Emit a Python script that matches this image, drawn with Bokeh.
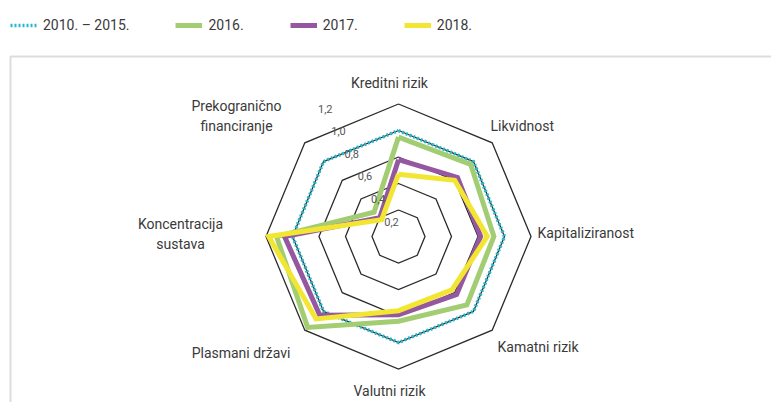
import numpy as np
from bokeh.plotting import figure
from bokeh.models import Legend, LegendItem, BoxAnnotation, ColumnDataSource
from bokeh.core.properties import value
from bokeh.embed import file_html
from bokeh.resources import INLINE

# ---------------- data ----------------
categories = ["Kreditni rizik", "Likvidnost", "Kapitaliziranost", "Kamatni rizik",
              "Valutni rizik", "Plasmani državi", "Koncentracija\nsustava",
              "Prekogranično\nfinanciranje"]
series_names = ["2010. – 2015.", "2016.", "2017.", "2018."]
v_2010_2015 = [1.00, 1.00, 1.00, 1.00, 1.00, 1.00, 1.00, 1.00]
v_2016 = [0.95, 0.97, 0.92, 0.93, 0.84, 1.17, 1.12, 0.46]
v_2017 = [0.78, 0.83, 0.82, 0.82, 0.79, 1.04, 1.06, 0.40]
v_2018 = [0.67, 0.80, 0.87, 0.77, 0.76, 1.08, 1.18, 0.38]
ring_values = [0.4, 0.6, 0.8, 1.0, 1.2]
tick_values = [0.2, 0.4, 0.6, 0.8, 1.0, 1.2]
tick_labels = ["0,2", "0,4", "0,6", "0,8", "1,0", "1,2"]
r_min = 0.2

# ---------------- layout / style ----------------
W, H = 771, 402
CX, CY = 398, 236          # centre of radar in figure pixels (from top-left)
S = 132.5                  # pixels per value unit
FONT = "Roboto"
TXT = "#3a3a3a"

n = len(categories)
theta = np.arange(n) * 2 * np.pi / n


def polar(vals):
    r = (np.asarray(vals, dtype=float) - r_min) * S
    x = r * np.sin(theta)
    y = r * np.cos(theta)
    return np.append(x, x[0]), np.append(y, y[0])


p = figure(width=W, height=H, x_range=(-CX, W - CX), y_range=(-(H - CY), CY),
           output_backend="svg", toolbar_location=None, min_border=0)
p.axis.visible = False
p.grid.visible = False
p.outline_line_color = None
p.background_fill_color = "white"

# frame lines (top and left)
p.add_layout(BoxAnnotation(left=10 - CX, top=CY - 56, right=5000, bottom=-5000,
                           fill_alpha=0, line_color="#8c8c8c", line_width=2))

# grid octagons
for rv in ring_values:
    gx, gy = polar([rv] * n)
    p.line(gx, gy, line_color="#2b2b2b", line_width=1.3, line_join="miter")

# series
styles = [
    dict(line_color="#2bb8cc", line_width=3.5, line_dash="2 2"),
    dict(line_color="#a2cd72", line_width=5),
    dict(line_color="#95579f", line_width=5),
    dict(line_color="#f3e633", line_width=5),
]
renderers = []
for vals, st in zip([v_2010_2015, v_2016, v_2017, v_2018], styles):
    sx, sy = polar(vals)
    renderers.append(p.line(sx, sy, line_join="miter", **st))

# radial tick labels
tr = (np.array(tick_values) - r_min) * S
tsrc = ColumnDataSource(dict(x=-7 - 0.5 * tr, y=15 + 0.85 * tr, t=tick_labels))
p.text("x", "y", text="t", source=tsrc, text_font=value(FONT), text_font_size="11px",
       text_color="#555555", text_align="center", text_baseline="middle")

# category labels (offsets in px from centre, y up)
label_pos = [(-9, 154, "center"), (92, 111, "left"), (139, 4, "left"), (99, -110, "left"),
             (-9, -154, "center"), (-108, -116, "right"), (-218, 3, "center"),
             (-162, 121, "center")]
for cat, (lx, ly, al) in zip(categories, label_pos):
    p.text([lx], [ly], text=[cat], text_font=value(FONT), text_font_size="14px",
           text_color=TXT, text_align=al, text_baseline="middle", text_line_height=1.25)

legend = Legend(items=[LegendItem(label=nm, renderers=[r]) for nm, r in zip(series_names, renderers)],
                orientation="horizontal", location=(10, H - 35), spacing=46,
                glyph_width=27, glyph_height=20, label_standoff=6, padding=0, margin=0,
                border_line_color=None, background_fill_alpha=0,
                label_text_font=FONT, label_text_font_size="14px", label_text_color=TXT)
p.add_layout(legend)

open("out.html", "w").write(file_html(p, INLINE))
